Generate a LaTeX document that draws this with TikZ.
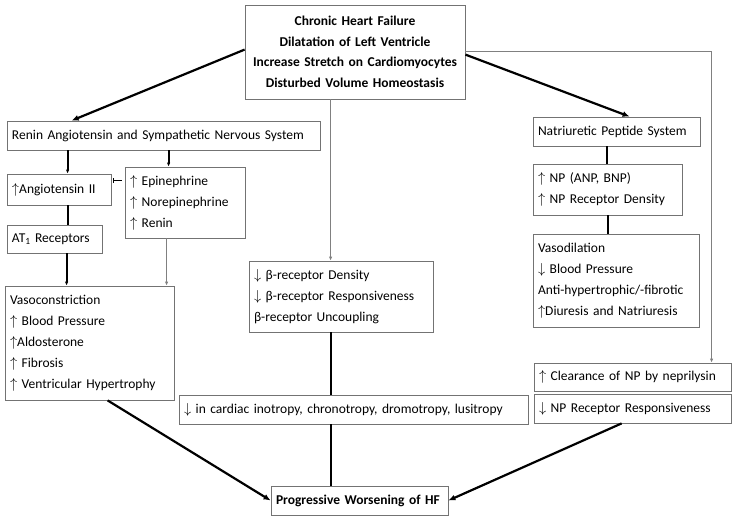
\documentclass[tikz,border=0pt]{standalone}
\usepackage{fontspec}
\setmainfont{Carlito}
\usetikzlibrary{arrows.meta,calc}
\newcommand\UA{$\uparrow$}
\newcommand\DA{$\downarrow$}
\begin{document}
\begin{tikzpicture}[x=1pt,y=-1pt,
  box/.style={draw=black!55, line width=0.8pt, inner xsep=5pt, inner ysep=1pt, align=left,
    font=\fontsize{13.5}{21}\selectfont, anchor=center},
  heavy/.style={line width=2.2pt},
  thinl/.style={draw=black!50, line width=0.8pt},
  tip/.style={-{Latex[length=7pt,width=6pt]}},
  smalltip/.style={-{Latex[length=4pt,width=3.5pt]}}
]
\useasboundingbox (0,0) rectangle (736,522);

\node[box, align=center, font=\bfseries\fontsize{13.5}{20.5}\selectfont, text width=210, minimum height=94] (top) at (355,52)
  {Chronic Heart Failure\\Dilatation of Left Ventricle\\Increase Stretch on Cardiomyocytes\\Disturbed Volume Homeostasis};

\node[box, text width=303, minimum height=29] (renin) at (163.5,135.5) {Renin Angiotensin and Sympathetic Nervous System};
\node[box, text width=94, minimum height=31] (ang) at (59,189.5) {\UA Angiotensin II};
\node[box, text width=110, minimum height=71] (epi) at (185,202.5) {\UA\ Epinephrine\\\UA\ Norepinephrine\\\UA\ Renin};
\node[box, text width=85, minimum height=28] (at1) at (54.5,239) {AT\textsubscript{1} Receptors};
\node[box, text width=159, minimum height=114] (vaso) at (89.5,343)
  {Vasoconstriction\\\UA\ Blood Pressure\\\UA Aldosterone\\\UA\ Fibrosis\\\UA\ Ventricular Hypertrophy};

\node[box, text width=174, minimum height=71] (beta) at (341,296.5)
  {\DA\ β-receptor Density\\\DA\ β-receptor Responsiveness\\β-receptor Uncoupling};
\node[box, text width=339, minimum height=29] (ino) at (353.5,409.5)
  {\DA\ in cardiac inotropy, chronotropy, dromotropy, lusitropy};
\node[box, text width=167, minimum height=29, font=\bfseries\fontsize{13.5}{21}\selectfont] (prog) at (359.5,500.5)
  {Progressive Worsening of HF};

\node[box, text width=157, minimum height=29] (nat) at (616.5,131.5) {Natriuretic Peptide System};
\node[box, text width=139, minimum height=51] (np) at (607.5,189.5) {\UA\ NP (ANP, BNP)\\\UA\ NP Receptor Density};
\node[box, text width=156, minimum height=93] (vasod) at (616,280.5)
  {Vasodilation\\\DA\ Blood Pressure\\Anti-hypertrophic/-fibrotic\\\UA Diuresis and Natriuresis};
\node[box, text width=187, minimum height=28] (clear) at (632.5,377) {\UA\ Clearance of NP by neprilysin};
\node[box, text width=187, minimum height=29] (npr) at (632.5,408.5) {\DA\ NP Receptor Responsiveness};

% connectors from top box
\draw[heavy, tip] ($(top.north west)+(0,45)$) -- ($(renin.north west)+(65,0)$);
\draw[heavy, tip] ($(top.north east)+(0,50)$) -- ($(nat.north west)+(97,0)$);
\draw[thinl, smalltip] ($(top.south west)+(86,0)$) -- ($(beta.north west)+(82,0)$);
\draw[thinl, smalltip] ($(top.north east)+(0,47)$) -| ($(clear.north west)+(178,0)$);

% left branch
\draw[heavy, smalltip] ($(renin.south west)+(61,0)$) -- ($(ang.north west)+(61,0)$);
\draw[heavy, smalltip] ($(renin.south west)+(162,0)$) -- ($(epi.north west)+(44,0)$);
\draw[heavy] ($(ang.south west)+(61,0)$) -- ($(at1.north west)+(61,0)$);
\draw[heavy, smalltip] ($(at1.south west)+(60,0)$) -- ($(vaso.north west)+(62,0)$);
\draw[thinl, smalltip] ($(epi.south west)+(42,0)$) -- ($(vaso.north west)+(162,0)$);
\draw[line width=1pt, -{Bar[width=5pt]}] ($(epi.north west)+(-3,14)$) -- ($(ang.north east)+(2,7)$);

% middle
\draw[heavy] ($(beta.south west)+(82,0)$) -- ($(ino.north west)+(152,0)$);
\draw[heavy] ($(ino.south west)+(152,0)$) -- ($(prog.north west)+(60,0)$);

% right branch
\draw[heavy] ($(nat.south west)+(74,0)$) -- ($(np.north west)+(74,0)$);
\draw[heavy] ($(np.south west)+(75,0)$) -- ($(vasod.north west)+(75,0)$);

% to progressive worsening
\draw[heavy, tip] ($(vaso.south west)+(103,0)$) -- (prog.west);
\draw[heavy, tip] ($(npr.south west)+(88,0)$) -- (prog.east);
\end{tikzpicture}
\end{document}
